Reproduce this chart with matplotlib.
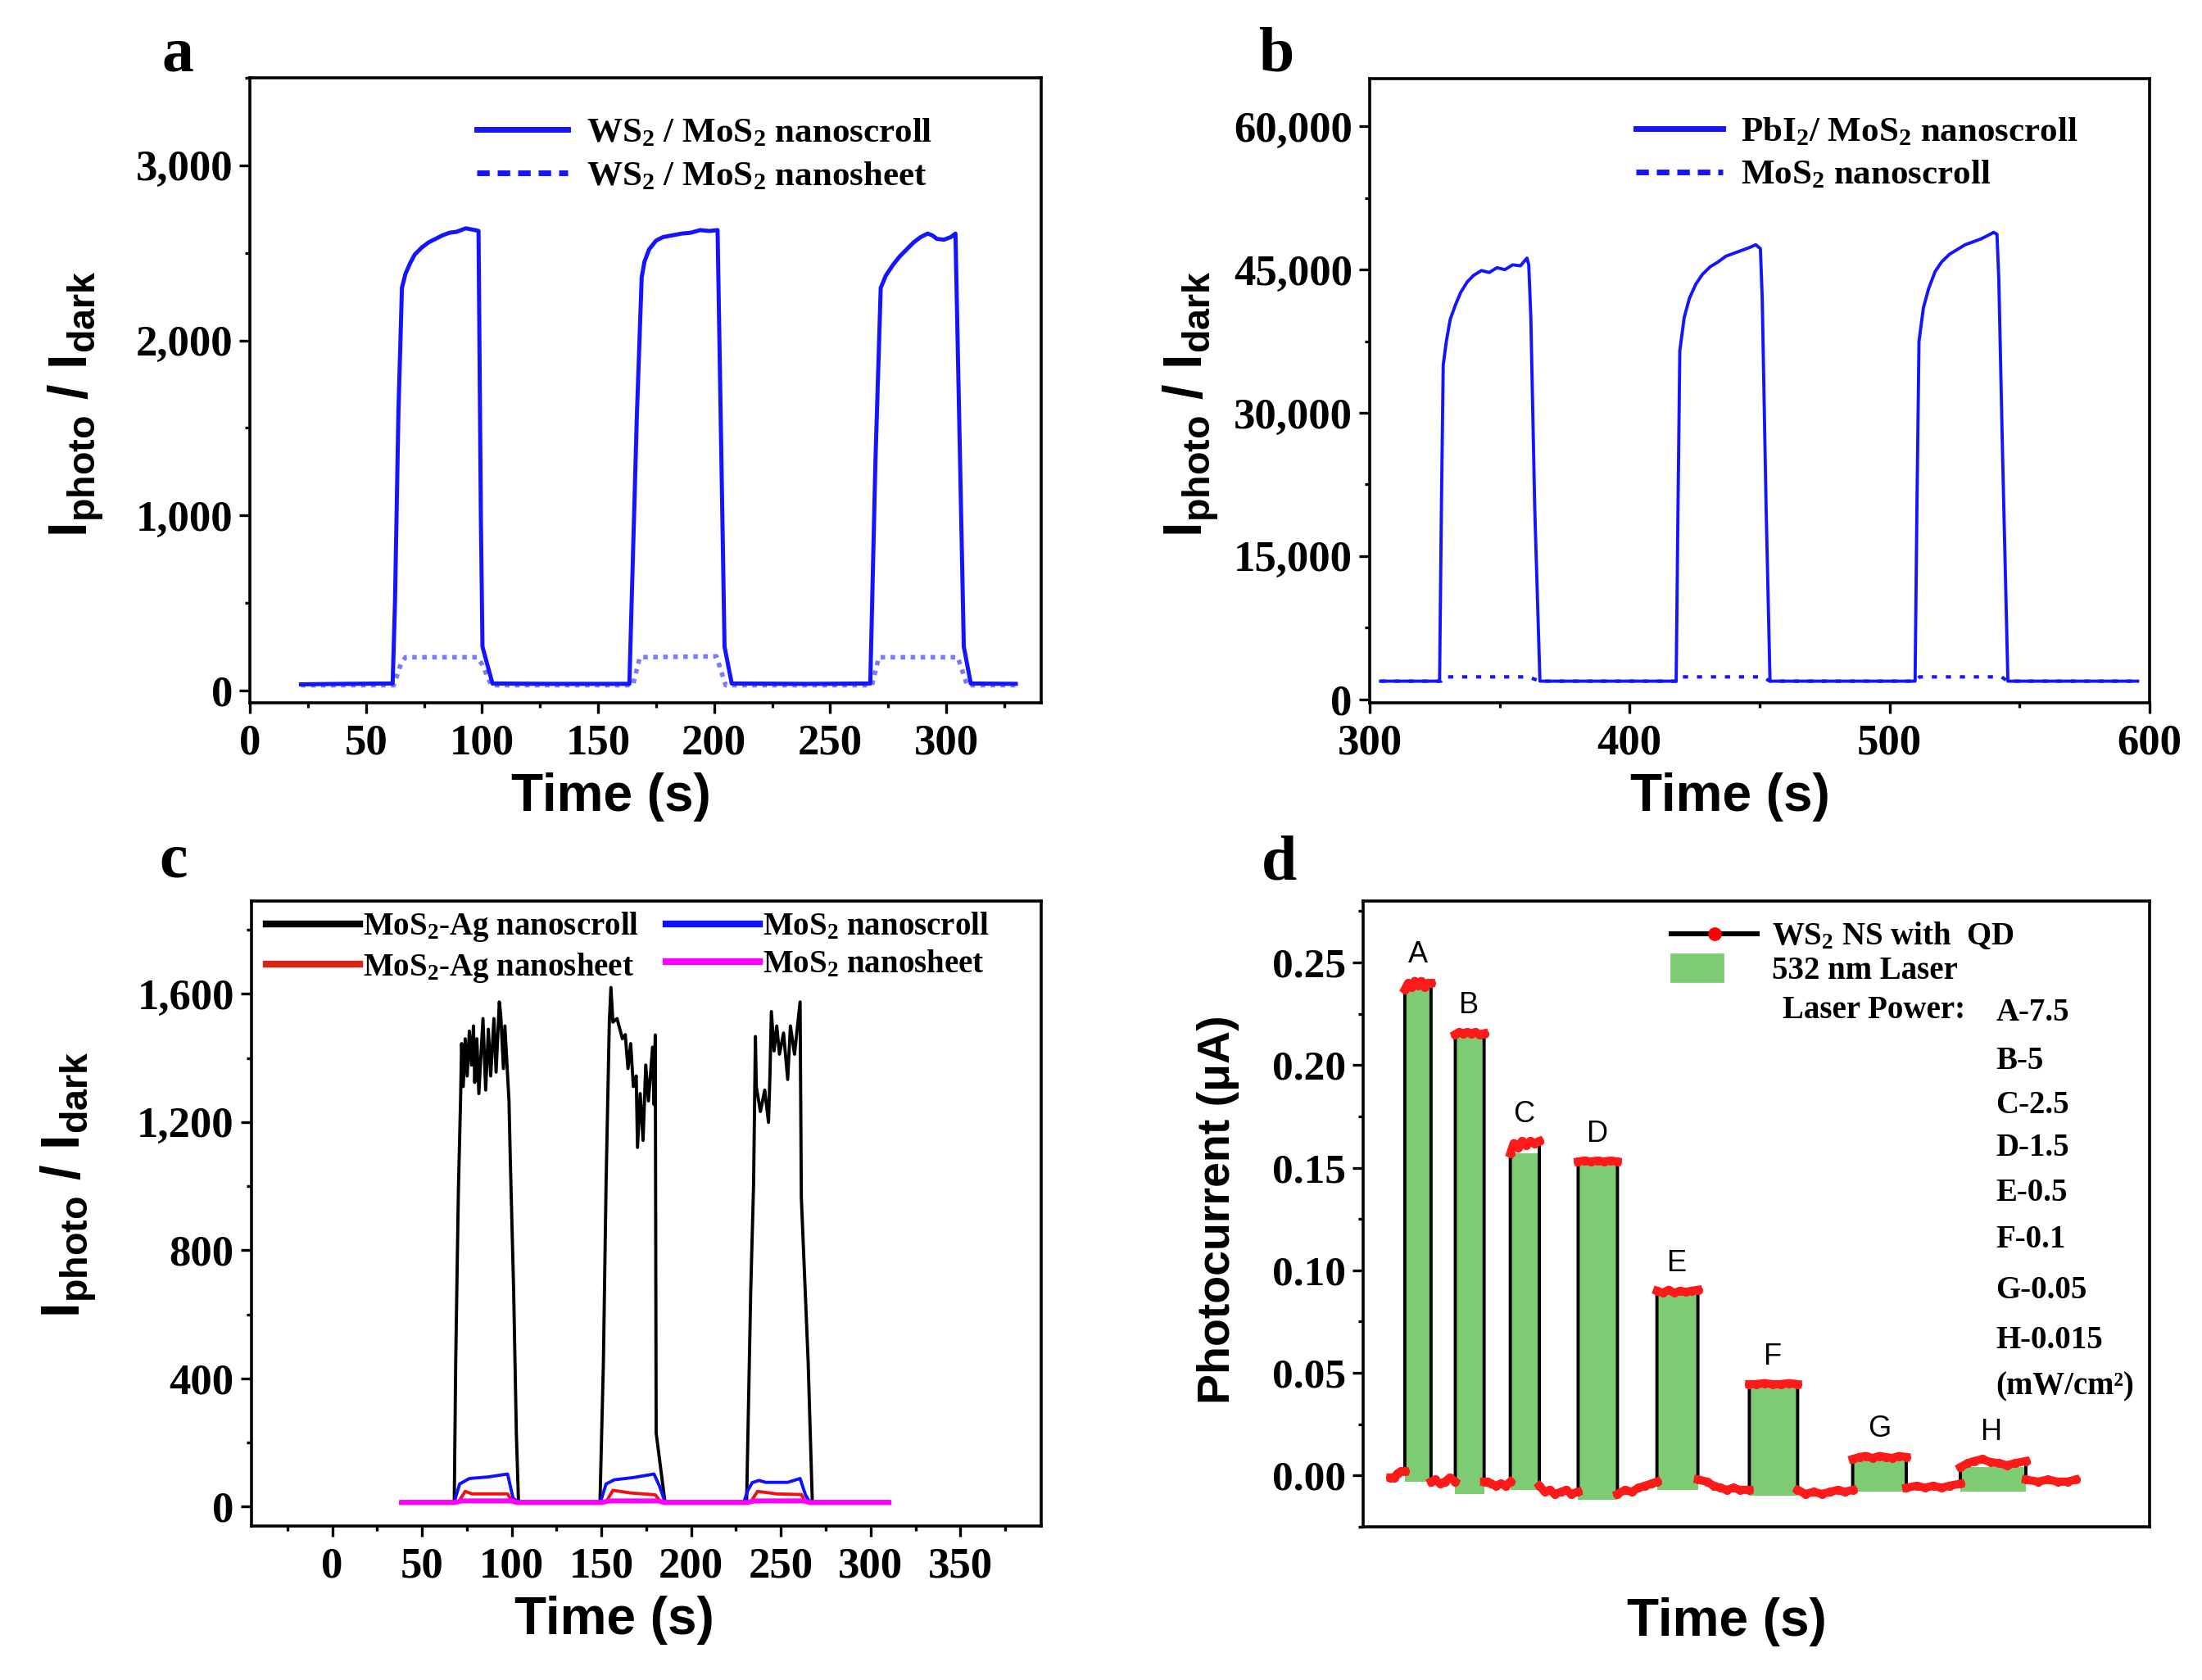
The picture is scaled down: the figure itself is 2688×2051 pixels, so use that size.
import matplotlib
matplotlib.use("Agg")
import matplotlib.pyplot as plt
from matplotlib.lines import Line2D
from matplotlib.patches import Patch, Rectangle
from matplotlib.legend_handler import HandlerPatch
from matplotlib.ticker import MultipleLocator, FuncFormatter, FormatStrFormatter

plt.rcParams['font.family'] = ['Liberation Serif', 'DejaVu Serif']
plt.rcParams['font.weight'] = 'bold'
plt.rcParams['mathtext.default'] = 'regular'
plt.rcParams['axes.linewidth'] = 1.3

SANS = ['Liberation Sans', 'DejaVu Sans']

# ---- panel a : WS2 / MoS2
a_time = [22, 40, 61.5, 62.5, 64.0, 65.5, 67, 69, 71, 74, 77, 80, 83, 86, 89, 91, 93, 95, 97, 98.5,
          99.5, 100.2, 104.5, 130, 163.5, 166.7, 168.8, 170, 172, 175, 178, 182, 186, 190, 194, 198,
          201.5, 204.5, 207.6, 240, 267.3, 269.5, 271.8, 274, 277, 280, 283, 286, 289, 292, 294, 296,
          299, 302, 304, 307.6, 310.6, 330]
a_scroll = [35, 38, 40, 500, 1600, 2300, 2380, 2440, 2490, 2530, 2560, 2580, 2600, 2615, 2620, 2630,
            2640, 2635, 2630, 2625, 1000, 250, 40, 38, 38, 1560, 2360, 2450, 2520, 2570, 2590, 2600,
            2610, 2615, 2630, 2625, 2630, 250, 40, 38, 40, 1300, 2300, 2370, 2430, 2480, 2520, 2560,
            2590, 2610, 2600, 2580, 2575, 2590, 2610, 250, 40, 38]
a_sheet_time = [22, 62, 65, 67, 98, 100, 104, 165, 168, 201, 205, 268, 271, 305, 309, 330]
a_sheet = [30, 30, 150, 190, 190, 150, 30, 30, 190, 195, 30, 30, 190, 190, 30, 30]

# ---- panel b : PbI2 / MoS2
b_time = [304.2, 326.9, 327.6, 328.3, 329.5, 331, 333, 335, 337.5, 340, 343, 346, 349, 352, 355, 358,
          360.5, 361.2, 362, 363.5, 365.5, 417.9, 418.6, 419.3, 421, 423, 425.5, 428, 431, 434, 437,
          440, 443, 446, 448.5, 450.3, 451, 452.5, 454, 509.8, 510.5, 511.3, 513, 515, 517.5, 520,
          523, 526, 529, 532, 535, 538, 540, 541.3, 542, 543.5, 545.5, 595.4]
b_scroll = [1900, 1900, 20000, 35000, 37500, 39800, 41300, 42600, 43700, 44400, 44900, 44700, 45200,
            45000, 45500, 45400, 46200, 45500, 40000, 20000, 1900, 1900, 20000, 36500, 40000, 42000,
            43500, 44500, 45300, 45800, 46400, 46700, 47000, 47300, 47600, 47200, 42000, 20000, 1900,
            1900, 20000, 37500, 41000, 43000, 44800, 45800, 46600, 47100, 47600, 47900, 48200, 48600,
            48900, 48700, 44000, 25000, 1900, 1900]
b_sheet_time = [304.2, 327.5, 328.5, 361, 365.5, 417.9, 419, 451, 454, 510, 511.5, 543, 545.5, 595.4]
b_sheet = [1900, 1900, 2350, 2350, 1900, 1900, 2350, 2350, 1900, 1900, 2350, 2350, 1900, 1900]

# ---- panel c : MoS2-Ag
c_ag_scroll_time = [38.6, 68, 68.8, 70.3, 71.5, 72.1, 73.0, 74.1, 75.2, 76.4, 77.6, 78.7, 79.4, 80.6,
                    81.7, 84.0, 85.5, 87.0, 88.3, 90.1, 91.3, 93.1, 93.9, 95.4, 96.2, 98.5, 99.2,
                    101.1, 102.6, 103.8, 149.2, 151.1, 152.6, 154.4, 155.3, 156.4, 158.7, 161.7,
                    163.3, 164.8, 166.3, 167.8, 169.4, 170.1, 171.6, 173.2, 174.7, 176.2, 178.5,
                    179.3, 180.0, 180.5, 185.4, 230.9, 233.2, 234.8, 235.8, 236.3, 238.6, 241,
                    243.1, 243.9, 244.7, 246.2, 247.7, 249.2, 251.5, 253.8, 255.3, 257.6, 260.7,
                    261.4, 265.2, 267.5, 310.2]
c_ag_scroll = [15, 15, 451, 987, 1266, 1445, 1311, 1460, 1344, 1484, 1378, 1500, 1324, 1460, 1289,
               1523, 1300, 1490, 1344, 1523, 1356, 1575, 1534, 1367, 1500, 1266, 1088, 672, 227, 15,
               15, 450, 1010, 1512, 1620, 1512, 1523, 1460, 1473, 1367, 1445, 1311, 1344, 1121, 1289,
               1143, 1378, 1266, 1434, 1255, 1472, 230, 15, 15, 674, 1009, 1467, 1311, 1233, 1300,
               1199, 1344, 1545, 1422, 1500, 1412, 1478, 1333, 1500, 1412, 1575, 964, 451, 15, 15]
c_scroll_time = [38.6, 68, 71, 76.4, 87, 97.7, 100.8, 103.8, 149.5, 152.6, 157.2, 167.8, 179.3, 182.3,
                 185.4, 229.4, 231.5, 234, 237.8, 241.6, 253.8, 260.7, 263.7, 266, 310.2]
c_scroll = [15, 15, 71, 88, 93, 102, 26, 15, 15, 71, 84, 91, 102, 65, 15, 15, 50, 75, 82, 76, 76, 88,
            37, 15, 15]
c_ag_sheet_time = [38.6, 70.3, 74.1, 77.9, 97.7, 100, 101.5, 152.6, 156.4, 166.3, 180, 183, 233.2,
                   237, 247.7, 261.4, 263.7, 310.2]
c_ag_sheet = [15, 15, 48, 40, 40, 18, 15, 15, 51, 43, 37, 15, 15, 48, 40, 38, 15, 15]
c_sheet_time = [38.6, 68, 72, 100, 103, 150, 154, 182, 185, 231, 235, 263, 266, 310.2]
c_sheet = [13, 13, 18, 18, 13, 13, 18, 18, 13, 13, 18, 18, 13, 13]

# ---- panel d : WS2 NS with QD, laser on / off
d_off_t = [[16.8, 19, 21, 23, 25.5],
           [41.5, 44, 47, 50, 53, 56.3],
           [73.9, 76, 78, 81, 84, 87, 89.9],
           [107.6, 111, 114, 117, 121, 124, 127, 131.3],
           [155.3, 160, 164, 168, 172, 176, 179.4],
           [204.4, 210, 214, 218, 222, 226, 230, 235.8],
           [265.3, 270, 275, 280, 285, 290, 294, 298.9],
           [331.6, 338, 343, 348, 353, 358, 364.6],
           [404.6, 412, 418, 424, 430, 435]]
d_off_i = [[-0.001, -0.001, 0.001, 0.002, 0.002],
           [-0.003, -0.002, -0.004, -0.003, -0.001, -0.003],
           [-0.003, -0.003, -0.004, -0.005, -0.004, -0.005, -0.003],
           [-0.005, -0.008, -0.007, -0.009, -0.008, -0.007, -0.009, -0.008],
           [-0.009, -0.007, -0.008, -0.006, -0.005, -0.004, -0.003],
           [-0.002, -0.003, -0.005, -0.006, -0.007, -0.006, -0.007, -0.007],
           [-0.007, -0.009, -0.008, -0.009, -0.008, -0.007, -0.008, -0.007],
           [-0.006, -0.005, -0.006, -0.005, -0.006, -0.005, -0.004],
           [-0.002, -0.003, -0.002, -0.003, -0.003, -0.002]]
d_on_t = [[25.5, 27.5, 29.5, 31.5, 33.5, 35.5, 37.5, 39.5, 41.5],
          [56.3, 58.5, 61, 63.5, 66, 68.5, 71, 73.9],
          [89.9, 92, 94.5, 97, 99.5, 102, 104.5, 107.6],
          [131.3, 135, 139, 143, 147, 151, 155.3],
          [179.4, 183, 186.5, 190, 193.5, 197, 200.5, 204.4],
          [235.8, 240, 245, 250, 255, 260, 265.3],
          [298.9, 303, 307, 311, 315, 319, 323, 327, 331.6],
          [364.6, 369, 373, 378, 383, 388, 393, 398, 404.6]]
d_on_i = [[0.237, 0.240, 0.238, 0.241, 0.239, 0.241, 0.238, 0.240, 0.240],
          [0.215, 0.216, 0.2155, 0.216, 0.2155, 0.216, 0.215, 0.2155],
          [0.157, 0.162, 0.160, 0.163, 0.161, 0.163, 0.162, 0.163],
          [0.153, 0.1535, 0.153, 0.1535, 0.153, 0.1535, 0.153],
          [0.090, 0.089, 0.0905, 0.089, 0.090, 0.0895, 0.090, 0.0905],
          [0.0445, 0.0445, 0.045, 0.0445, 0.0445, 0.045, 0.0445],
          [0.008, 0.009, 0.0095, 0.0085, 0.0095, 0.009, 0.0085, 0.0095, 0.009],
          [0.004, 0.006, 0.007, 0.008, 0.0065, 0.006, 0.005, 0.006, 0.007]]
d_bar_bottom = [-0.003, -0.009, -0.007, -0.012, -0.007, -0.010, -0.008, -0.008]
d_letters = ['A', 'B', 'C', 'D', 'E', 'F', 'G', 'H']
d_powers = ['A-7.5', 'B-5', 'C-2.5', 'D-1.5', 'E-0.5', 'F-0.1', 'G-0.05', 'H-0.015', '(mW/cm²)']
d_power_y = [0.8215, 0.744, 0.674, 0.605, 0.533, 0.459, 0.378, 0.298, 0.224]

BLUE = '#1414ff'
GREEN = '#7dcc74'

thousands = FuncFormatter(lambda v, p: f'{v:,.0f}')


def style_axis(ax, xmaj, xmin, ymaj, ymin, size=19):
    if xmaj:
        ax.xaxis.set_major_locator(MultipleLocator(xmaj))
        ax.xaxis.set_minor_locator(MultipleLocator(xmin))
    ax.yaxis.set_major_locator(MultipleLocator(ymaj))
    ax.yaxis.set_minor_locator(MultipleLocator(ymin))
    ax.tick_params(which='both', direction='out', top=False, right=False, width=1.2, labelsize=size)
    ax.tick_params(axis='x', which='major', length=4.6, pad=4.5)
    ax.tick_params(axis='y', which='major', length=4.6, pad=3)
    ax.tick_params(which='minor', length=2.3)


def set_labels(ax, ylab, ylab_pos, xlab_x, ysize=24):
    ax.set_xlabel('Time (s)', family=SANS, weight='bold', fontsize=23)
    ax.set_ylabel(ylab, family=SANS, weight='bold', fontsize=ysize)
    ax.xaxis.set_label_coords(xlab_x, -0.112)
    ax.yaxis.set_label_coords(*ylab_pos)


fig = plt.figure(figsize=(13.44, 10.255), dpi=200)
ratio_label = 'I$_{photo}$ / I$_{dark}$'

# a
ax = fig.add_axes([0.1135, 0.5817, 0.3594, 0.3720])
ax.plot(a_sheet_time, a_sheet, color='#7a7aff', lw=2.0, ls=(0, (1, 1.2)))
ax.plot(a_time, a_scroll, color=BLUE, lw=1.8)
ax.set_xlim(0, 341)
ax.set_ylim(-70, 3500)
style_axis(ax, 50, 25, 1000, 500)
ax.yaxis.set_major_formatter(thousands)
set_labels(ax, ratio_label, (-0.182, 0.478), 0.456)
ax.legend([Line2D([], [], color=BLUE, lw=2.5), Line2D([], [], color=BLUE, lw=2.5, ls=(0, (2.2, 1.4)))],
          ['WS$_2$ / MoS$_2$ nanoscroll', 'WS$_2$ / MoS$_2$ nanosheet'],
          loc='upper left', bbox_to_anchor=(0.287, 0.937), frameon=False, borderpad=0,
          borderaxespad=0, handlelength=2.58, handletextpad=0.52, labelspacing=0.32,
          prop={'size': 15.5, 'weight': 'bold'})

# b
ax = fig.add_axes([0.6220, 0.5817, 0.3542, 0.3715])
ax.plot(b_sheet_time, b_sheet, color=BLUE, lw=1.5, ls=(0, (1.5, 2.6)))
ax.plot(b_time, b_scroll, color=BLUE, lw=1.4)
ax.set_xlim(300, 600)
ax.set_ylim(-360, 65000)
style_axis(ax, 100, 50, 15000, 7500)
ax.yaxis.set_major_formatter(thousands)
set_labels(ax, ratio_label, (-0.191, 0.479), 0.462)
ax.legend([Line2D([], [], color=BLUE, lw=2.5), Line2D([], [], color=BLUE, lw=2.5, ls=(0, (2.2, 1.4)))],
          ['PbI$_2$/ MoS$_2$ nanoscroll', 'MoS$_2$ nanoscroll'],
          loc='upper left', bbox_to_anchor=(0.341, 0.940), frameon=False, borderpad=0,
          borderaxespad=0, handlelength=2.47, handletextpad=0.52, labelspacing=0.32,
          prop={'size': 15.5, 'weight': 'bold'})

# c
ax = fig.add_axes([0.1142, 0.0917, 0.3586, 0.3720])
ax.plot(c_ag_scroll_time, c_ag_scroll, color='black', lw=1.4)
ax.plot(c_scroll_time, c_scroll, color='#1010ff', lw=1.4)
ax.plot(c_ag_sheet_time, c_ag_sheet, color='#ee1111', lw=1.4)
ax.plot(c_sheet_time, c_sheet, color='#ff00ff', lw=2.2)
ax.set_xlim(-45, 395)
ax.set_ylim(-60, 1890)
style_axis(ax, 50, 25, 400, 200)
ax.yaxis.set_major_formatter(thousands)
set_labels(ax, ratio_label, (-0.194, 0.546), 0.459)
ax.legend([Line2D([], [], color='black', lw=3), Line2D([], [], color='#dd2211', lw=3),
           Line2D([], [], color='#1010ff', lw=3), Line2D([], [], color='#ff00ff', lw=3)],
          ['MoS$_2$-Ag nanoscroll', 'MoS$_2$-Ag nanosheet', 'MoS$_2$ nanoscroll', 'MoS$_2$ nanosheet'],
          ncol=2, loc='upper left', bbox_to_anchor=(0.019, 0.985), frameon=False, borderpad=0,
          borderaxespad=0, handlelength=2.93, handletextpad=0.1, labelspacing=0.22,
          columnspacing=0.85, prop={'size': 14, 'weight': 'bold'})

# d
ax = fig.add_axes([0.6190, 0.0912, 0.3571, 0.3725])
trace_t, trace_i = [], []
for k in range(len(d_on_t)):
    trace_t += d_off_t[k] + d_on_t[k]
    trace_i += d_off_i[k] + d_on_i[k]
trace_t += d_off_t[-1]
trace_i += d_off_i[-1]

starts = [seg[0] for seg in d_on_t]
widths = [seg[-1] - seg[0] for seg in d_on_t]
tops = [min(seg) for seg in d_on_i]
ax.bar(starts, [t - b for t, b in zip(tops, d_bar_bottom)], width=widths, bottom=d_bar_bottom,
       align='edge', color=GREEN, zorder=1)
ax.plot(trace_t, trace_i, color='black', lw=1.4, zorder=2)
for seg_t, seg_i in zip(d_off_t + d_on_t, d_off_i + d_on_i):
    ax.plot(seg_t, seg_i, color='#ff1a1a', lw=3.6, marker='o', ms=3.0, zorder=3)
for seg_t, seg_i, letter in zip(d_on_t, d_on_i, d_letters):
    ax.text(sum(seg_t) / len(seg_t), max(seg_i) + 0.006, letter, family=SANS, weight='normal',
            fontsize=13, ha='center', va='bottom')

ax.set_xlim(0, 480)
ax.set_ylim(-0.025, 0.28)
ax.set_xticks([])
style_axis(ax, None, None, 0.05, 0.025, size=18.5)
ax.yaxis.set_major_formatter(FormatStrFormatter('%.2f'))
set_labels(ax, 'Photocurrent (μA)', (-0.157, 0.507), 0.463, ysize=20)


def narrow_patch(legend, orig_handle, xdescent, ydescent, width, height, fontsize):
    return Rectangle((-xdescent, -ydescent - 0.1 * height), 0.6 * width, 1.2 * height)


ax.legend([Line2D([], [], color='black', lw=2.2, marker='o', mfc='red', mec='red', ms=5),
           Patch(color=GREEN)],
          ['WS$_2$ NS with  QD', '532 nm Laser'],
          handler_map={Patch: HandlerPatch(patch_func=narrow_patch)},
          loc='upper left', bbox_to_anchor=(0.392, 0.968), frameon=False, borderpad=0,
          borderaxespad=0, handlelength=2.7, handletextpad=0.45, labelspacing=0.12, numpoints=1,
          prop={'size': 14, 'weight': 'bold'})
ax.text(0.766, 0.825, 'Laser Power:', transform=ax.transAxes, fontsize=14, ha='right', va='center')
for txt, y in zip(d_powers, d_power_y):
    ax.text(0.805, y, txt, transform=ax.transAxes, fontsize=14, ha='left', va='center')

# panel letters
for letter, x, y in [('a', 0.0807, 0.958), ('b', 0.580, 0.958), ('c', 0.0789, 0.478), ('d', 0.581, 0.4764)]:
    fig.text(x, y, letter, fontsize=28, weight='bold', ha='center', va='baseline')

fig.savefig('out.png', dpi=200)
